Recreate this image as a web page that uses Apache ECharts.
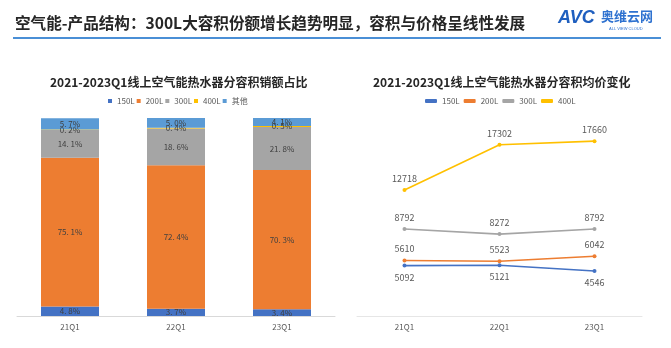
<!DOCTYPE html>
<html>
<head>
<meta charset="utf-8">
<script src="https://cdn.jsdelivr.net/npm/echarts@6/dist/echarts.min.js"></script>
<style>
html,body{margin:0;padding:0;background:#fff;}
#c{width:671px;height:348px;}
</style>
</head>
<body>
<div id="c"></div>
<script>
const categories = ['21Q1', '22Q1', '23Q1'];
const shareNames = ['150L', '200L', '300L', '400L', '其他'];
const share150 = [4.8, 3.7, 3.4];
const share200 = [75.1, 72.4, 70.3];
const share300 = [14.1, 18.6, 21.8];
const share400 = [0.2, 0.4, 0.5];
const shareOther = [5.7, 5.0, 4.1];
const priceNames = ['150L', '200L', '300L', '400L'];
const price150 = [5092, 5121, 4546];
const price200 = [5610, 5523, 6042];
const price300 = [8792, 8272, 8792];
const price400 = [12718, 17302, 17660];

const FONT = '"Noto Sans CJK SC", "Noto Sans", sans-serif';
const colors = ['#4472C4', '#ED7D31', '#A5A5A5', '#FFC000', '#5B9BD5'];

const chart = echarts.init(document.getElementById('c'), null, {renderer: 'canvas'});
const shareData = [share150, share200, share300, share400, shareOther];
const priceData = [price150, price200, price300, price400];

function pctLabel(p) {
  return p.value.toFixed(1).replace('.', '. ') + '%';
}

const series = [];
shareData.forEach((d, i) => {
  series.push({
    name: shareNames[i], type: 'bar', stack: 'share', xAxisIndex: 0, yAxisIndex: 0,
    data: d, barWidth: 58,
    itemStyle: {color: colors[i]},
    label: {show: true, position: 'inside', formatter: pctLabel, fontSize: 8, color: '#404040', fontFamily: FONT},
    emphasis: {disabled: true}
  });
});
priceData.forEach((d, i) => {
  series.push({
    name: priceNames[i], type: 'line', xAxisIndex: 1, yAxisIndex: 1,
    data: d, symbol: 'circle', symbolSize: 4, showSymbol: true,
    lineStyle: {color: colors[i], width: 1.6},
    itemStyle: {color: colors[i]},
    label: {show: true, position: i === 0 ? 'bottom' : 'top', distance: 5, fontSize: 9, color: '#595959', fontFamily: FONT},
    emphasis: {disabled: true}
  });
});

chart.setOption({
  animation: false,
  textStyle: {fontFamily: FONT},
  title: [
    {text: '2021-2023Q1线上空气能热水器分容积销额占比', left: 45, top: 71,
     textStyle: {fontSize: 12, fontWeight: 'bold', color: '#262626', fontFamily: FONT}},
    {text: '2021-2023Q1线上空气能热水器分容积均价变化', left: 368, top: 71,
     textStyle: {fontSize: 12, fontWeight: 'bold', color: '#262626', fontFamily: FONT}}
  ],
  legend: [
    {data: shareNames, left: 108, top: 97, itemWidth: 4, itemHeight: 4, itemGap: 2,
     icon: 'rect', textStyle: {fontSize: 8, color: '#595959', fontFamily: FONT}, selectedMode: false, padding: 0},
    {data: priceNames, left: 425, top: 97, itemWidth: 12, itemHeight: 4, itemGap: 4,
     textStyle: {fontSize: 8, color: '#595959', fontFamily: FONT}, selectedMode: false, padding: 0}
  ],
  grid: [
    {left: 17, right: 336, top: 118, bottom: 32},
    {left: 357, right: 29, top: 118, bottom: 32}
  ],
  xAxis: [
    {type: 'category', gridIndex: 0, data: categories,
     axisLine: {lineStyle: {color: '#D9D9D9'}}, axisTick: {show: false},
     axisLabel: {fontSize: 8, color: '#595959', margin: 7}},
    {type: 'category', gridIndex: 1, data: categories,
     axisLine: {lineStyle: {color: '#E6E6E6'}}, axisTick: {show: false},
     axisLabel: {fontSize: 8, color: '#595959', margin: 7}}
  ],
  yAxis: [
    {type: 'value', gridIndex: 0, min: 0, max: 100, show: false, splitLine: {show: false}},
    {type: 'value', gridIndex: 1, min: 0, max: 20000, show: false, splitLine: {show: false}}
  ],
  graphic: [
    {type: 'text', left: 15, top: 15, style: {text: '空气能-产品结构：300L大容积份额增长趋势明显，容积与价格呈线性发展',
      font: 'bold 15.6px ' + FONT, fill: '#262626'}},
    {type: 'rect', shape: {x: 13, y: 37, width: 648, height: 2}, style: {fill: '#4A8FD6'}},
    {type: 'text', left: 558, top: 9, style: {text: 'AVC', font: 'italic bold 18px "Liberation Sans", Arial, sans-serif', fill: '#1F5FBF'}},
    {type: 'text', left: 601, top: 10, style: {text: '奥维云网', font: 'bold 13px ' + FONT, fill: '#2F72D0'}},
    {type: 'text', left: 609, top: 27, style: {text: 'ALL VIEW CLOUD', font: '4px sans-serif', fill: '#2F72D0'}}
  ],
  series: series
});
</script>
</body>
</html>
